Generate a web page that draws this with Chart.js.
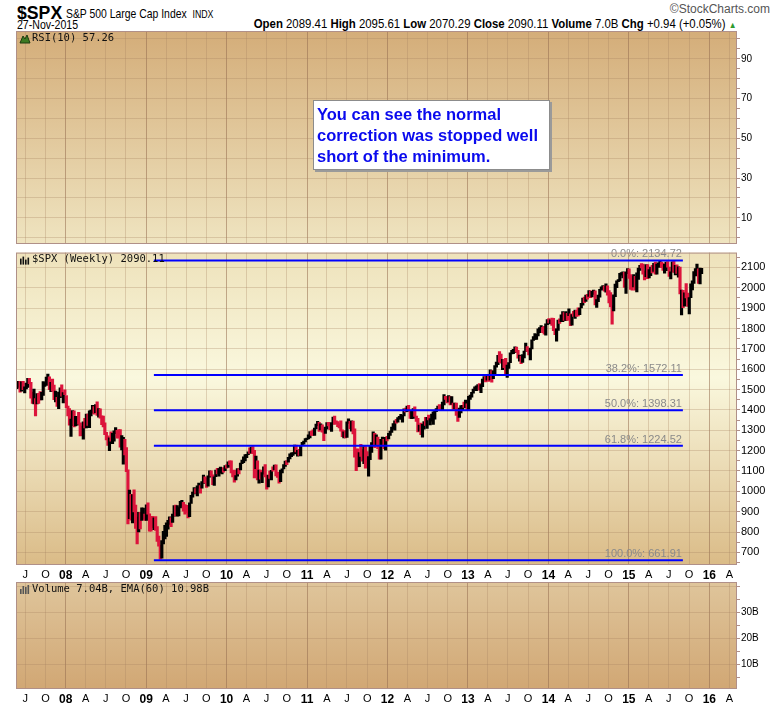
<!DOCTYPE html>
<html>
<head>
<meta charset="utf-8">
<script src="https://cdn.jsdelivr.net/npm/chart.js@4.4.1/dist/chart.umd.min.js"></script>
<style>
  body { margin: 0; background: #fff; width: 780px; height: 707px; position: relative; overflow: hidden;
         font-family: "Liberation Sans", Arial, sans-serif; }
  canvas { position: absolute; left: 0; }
  .hd { position: absolute; white-space: nowrap; color: #000; transform-origin: left top; }
  #note { position: absolute; left: 313px; top: 100px; width: 237px; height: 70px; box-sizing: border-box;
          background: #fff; border: 1px solid #8c8c8c; box-shadow: 2px 2px 0 #9a9a9a;
          padding: 3px 0 0 3px; font: bold 16.5px "Liberation Sans", Arial, sans-serif; color: #0a0aee; line-height: 21px; }
</style>
</head>
<body>
<div class="hd" style="left:17px;top:2px;font-weight:bold;font-size:19px;transform:scaleX(0.93)">$SPX</div>
<div class="hd" style="left:66px;top:6px;font-size:13px;transform:scaleX(0.8)">S&amp;P 500 Large Cap Index&nbsp; <span style="font-size:11px">INDX</span></div>
<div class="hd" style="left:17px;top:18px;font-size:12px;transform:scaleX(0.88)">27-Nov-2015</div>
<div class="hd" style="right:44px;top:16px;font-size:13px;transform:scaleX(0.877);transform-origin:right top"><b>Open</b> 2089.41 <b>High</b> 2095.61 <b>Low</b> 2070.29 <b>Close</b> 2090.11 <b>Volume</b> 7.0B <b>Chg</b> +0.94 (+0.05%) <span style="color:#2f9b2f;font-size:9px">&#9650;</span></div>
<div class="hd" style="right:10px;top:2px;font-size:12px;color:#555">&copy;StockCharts.com</div>

<canvas id="rsi" width="780" height="227" style="top:24px"></canvas>
<canvas id="price" width="780" height="336" style="top:245px"></canvas>
<canvas id="volume" width="780" height="130" style="top:575px"></canvas>

<div id="note">You can see the normal<br>correction was stopped well<br>short of the minimum.</div>

<script>
// weekly bars, first week ending 25-May-2007, one value per week
const weekStart = '2007-05-25';
const weekHigh = [
  1529,1540,1540,1538,1540,1514,1532,1555,1555,1535,1488,1503,1456,1480,1481,1490,1486,1539,1534,1561,1576,1563,1535,1552,1522,1493,1462,1488,1508,1523,1485,1499,
  1471,1419,1407,1355,1397,1395,1368,1368,1388,1336,1321,1341,1359,1380,1380,1395,1399,1422,1416,1426,1440,1406,1405,1371,1370,1336,1290,1273,1263,1292,1285,1297,1313,1300,1303,1303,1274,1265,1255,1215,1106,1006,985,984,1007,933,873,897,897,919,918,888,
  934,943,890,852,877,870,876,827,780,736,758,804,833,845,857,875,871,888,930,933,930,920,951,956,946,935,931,898,943,980,996,1018,1013,1027,1040,1028,1048,1080,1071,1065,1076,1101,1101,1081,1071,1105,1113,1112,1119,1110,1117,1127,1130,
  1145,1150,1150,1103,1104,1077,1112,1112,1139,1153,1170,1180,1182,1194,1214,1218,1220,1202,1173,1150,1104,1105,1092,1120,1131,1077,1080,1100,1103,1120,1129,1130,1095,1074,1105,1110,1131,1149,1151,1167,1184,1189,1190,1227,1227,1201,1206,1225,1241,1247,1259,1262,
  1278,1294,1296,1302,1311,1331,1344,1339,1332,1327,1306,1316,1338,1339,1328,1338,1365,1370,1346,1343,1333,1346,1302,1292,1298,1341,1356,1344,1347,1345,1307,1208,1209,1190,1231,1205,1220,1220,1195,1171,1225,1239,1292,1285,1277,1266,1219,1255,1267,1255,1265,1270,
  1285,1296,1316,1333,1346,1354,1362,1368,1378,1374,1405,1409,1419,1422,1398,1393,1406,1415,1370,1359,1325,1335,1329,1343,1364,1363,1375,1357,1380,1390,1394,1407,1419,1426,1413,1438,1475,1467,1460,1470,1465,1465,1434,1434,1434,1388,1409,1421,1423,1439,1448,1430,
  1467,1473,1486,1503,1514,1518,1524,1530,1525,1552,1564,1564,1570,1573,1597,1593,1592,1618,1635,1668,1687,1674,1648,1648,1654,1620,1632,1680,1693,1698,1710,1709,1693,1669,1664,1672,1689,1729,1711,1693,1704,1745,1760,1775,1771,1799,1805,1814,1806,1811,1823,1844,
  1849,1843,1851,1850,1799,1798,1841,1847,1867,1883,1878,1883,1875,1897,1872,1869,1885,1891,1889,1902,1901,1924,1950,1955,1964,1968,1986,1985,1983,1989,1985,1942,1964,1993,2005,2011,2008,2019,2010,1986,1977,1912,1966,2018,2034,2041,2071,2075,2079,2076,2078,2094,
  2093,2065,2057,2065,2057,2073,2097,2110,2119,2117,2083,2114,2114,2089,2102,2111,2120,2126,2117,2123,2135,2126,2121,2115,2127,2129,2102,2078,2128,2133,2111,2113,2103,2102,1989,1987,1975,2021,1974,1952,2020,2034,2080,2094,2117,2093,2097,2096
];
const weekLow = [
  1505,1510,1487,1492,1500,1484,1503,1510,1529,1458,1432,1430,1370,1430,1432,1449,1449,1471,1516,1520,1550,1500,1490,1492,1450,1439,1417,1406,1460,1467,1435,1475,
  1411,1370,1325,1270,1322,1316,1321,1325,1330,1272,1273,1256,1312,1312,1324,1313,1370,1384,1379,1387,1373,1364,1359,1328,1317,1278,1253,1225,1200,1247,1234,1247,1283,1261,1262,1217,1203,1133,1179,1097,840,866,858,845,899,818,741,800,815,857,862,857,
  857,888,804,804,821,812,808,754,731,667,672,741,766,779,814,838,826,847,878,879,878,879,918,927,903,888,896,869,875,940,971,987,990,978,1016,991,1015,1039,1041,1019,1025,1070,1074,1033,1029,1072,1086,1074,1091,1085,1094,1102,1114,
  1117,1131,1090,1071,1045,1056,1075,1086,1105,1136,1141,1150,1165,1180,1186,1188,1185,1066,1111,1056,1040,1060,1043,1084,1071,1011,1022,1063,1056,1099,1107,1076,1068,1040,1047,1091,1110,1122,1131,1143,1159,1170,1177,1184,1194,1173,1176,1174,1224,1232,1243,1254,
  1257,1263,1275,1275,1275,1307,1323,1294,1302,1291,1249,1285,1305,1321,1303,1294,1331,1329,1332,1318,1311,1296,1268,1262,1263,1265,1334,1307,1295,1282,1168,1101,1120,1121,1172,1148,1136,1114,1128,1075,1156,1191,1230,1215,1226,1209,1158,1158,1231,1209,1202,1248,
  1258,1275,1290,1307,1300,1335,1340,1354,1354,1340,1370,1390,1391,1397,1358,1357,1358,1368,1343,1292,1296,1278,1266,1306,1324,1309,1351,1326,1345,1329,1354,1391,1397,1398,1397,1396,1425,1451,1434,1439,1425,1427,1403,1405,1373,1343,1363,1385,1398,1412,1410,1401,
  1402,1451,1463,1482,1496,1495,1513,1497,1485,1514,1547,1538,1546,1540,1548,1536,1554,1577,1610,1622,1635,1630,1598,1608,1577,1560,1604,1632,1675,1676,1681,1684,1654,1639,1627,1633,1656,1687,1687,1670,1646,1700,1741,1746,1746,1764,1780,1797,1779,1772,1767,1819,
  1827,1823,1815,1790,1770,1738,1791,1825,1834,1834,1840,1839,1840,1863,1814,1816,1859,1850,1860,1862,1868,1901,1915,1927,1933,1944,1958,1952,1955,1968,1916,1904,1932,1954,1989,1993,1984,1979,1964,1926,1906,1821,1886,1957,2001,2030,2034,2062,2049,2002,1973,2069,
  2046,1992,1988,2004,1989,1980,2041,2085,2098,2067,2039,2055,2045,2048,2060,2073,2080,2067,2067,2100,2117,2099,2085,2072,2084,2101,2056,2044,2078,2076,2063,2071,2052,1970,1867,1903,1910,1950,1908,1872,1951,1990,2022,2059,2072,2022,2019,2070
];
const weekClose = [
  1516,1536,1508,1533,1503,1503,1530,1552,1534,1459,1433,1454,1446,1479,1474,1454,1484,1526,1527,1558,1562,1501,1535,1510,1454,1459,1441,1481,1505,1468,1485,1479,
  1412,1401,1325,1331,1395,1331,1350,1353,1331,1293,1288,1330,1315,1370,1333,1390,1398,1414,1388,1425,1376,1400,1361,1360,1318,1278,1263,1240,1261,1258,1260,1296,1298,1292,1283,1242,1252,1255,1213,1099,899,941,877,969,931,873,800,896,876,880,888,873,
  932,890,850,832,826,869,827,770,735,683,757,769,816,843,857,870,866,878,929,883,887,919,940,946,921,919,896,879,940,979,988,1011,1004,1026,1029,1016,1043,1068,1044,1025,1072,1088,1080,1036,1069,1094,1091,1092,1106,1106,1103,1127,1115,
  1145,1136,1092,1074,1066,1075,1109,1105,1139,1150,1160,1167,1178,1194,1192,1217,1187,1111,1136,1088,1089,1065,1092,1118,1077,1023,1078,1065,1103,1102,1122,1079,1072,1065,1105,1110,1126,1149,1146,1165,1176,1183,1183,1226,1199,1200,1189,1225,1240,1244,1257,1258,
  1272,1293,1283,1276,1311,1329,1343,1320,1321,1304,1279,1314,1332,1328,1320,1337,1364,1340,1338,1333,1331,1300,1271,1272,1268,1340,1344,1316,1345,1292,1199,1179,1124,1177,1174,1154,1216,1136,1131,1155,1225,1238,1285,1253,1264,1216,1159,1244,1255,1220,1265,1258,
  1278,1289,1315,1316,1345,1343,1361,1366,1370,1371,1404,1397,1409,1398,1370,1379,1403,1369,1353,1295,1318,1278,1326,1343,1335,1362,1355,1357,1363,1386,1391,1406,1418,1411,1407,1438,1466,1460,1441,1461,1429,1433,1412,1414,1380,1360,1409,1416,1418,1414,1430,1402,
  1467,1472,1486,1503,1513,1518,1520,1516,1518,1551,1561,1557,1569,1553,1589,1555,1582,1614,1634,1668,1650,1631,1643,1627,1592,1606,1632,1680,1692,1692,1710,1691,1656,1664,1633,1655,1688,1710,1692,1691,1703,1745,1760,1762,1771,1798,1805,1806,1805,1775,1818,1841,
  1831,1842,1839,1790,1783,1797,1839,1836,1860,1878,1841,1867,1858,1865,1816,1865,1863,1881,1879,1878,1901,1924,1949,1936,1963,1961,1985,1968,1978,1978,1925,1932,1955,1988,2003,2008,1986,2010,1983,1968,1906,1887,1965,2018,2032,2040,2064,2068,2075,2002,2071,2089,
  2058,2045,2019,2052,1995,2056,2097,2110,2105,2071,2053,2108,2061,2067,2102,2081,2118,2108,2116,2123,2126,2107,2093,2094,2110,2102,2077,2077,2127,2080,2104,2078,2092,1971,1989,1921,1961,1958,1931,1951,2015,2033,2075,2079,2099,2023,2089,2090
];

// axis labels
const quarterStart = '2007-07-01';
const quarterLabels = ['J','O','08','A','J','O','09','A','J','O','10','A','J','O','11','A','J','O',
  '12','A','J','O','13','A','J','O','14','A','J','O','15','A','J','O','16','A'];
const rsiLabels = [10, 30, 50, 70, 90];
const priceLabels = [700, 800, 900, 1000, 1100, 1200, 1300, 1400, 1500, 1600, 1700, 1800, 1900, 2000, 2100];
const volumeLabels = [10e9, 20e9, 30e9];

// fibonacci retracement
const fibPercents = ['0.0%', '38.2%', '50.0%', '61.8%', '100.0%'];
const fibValues = [2134.72, 1572.11, 1398.31, 1224.52, 661.91];
const fibFrom = '2009-02-05';
const fibTo = '2015-09-03';

const narrow = '"Liberation Sans Narrow", "Liberation Sans", sans-serif';
const frameColor = '#b09088';
const quarterGrid = 'rgba(165,130,95,0.30)';
const yearGrid = 'rgba(150,110,80,0.55)';
const hGrid = 'rgba(165,130,95,0.30)';
const upColor = '#000000';
const downColor = '#dc143c';

Chart.defaults.font.family = '"Liberation Sans", Arial, sans-serif';

function yearFrac(d) {
    const y = d.getUTCFullYear();
    const a = Date.UTC(y, 0, 1), b = Date.UTC(y + 1, 0, 1);
    return y + (d.getTime() - a) / (b - a);
}
function toX(s) {
    return yearFrac(new Date(s + 'T00:00:00Z'));
}

const DAY = 86400000;
const t0 = Date.parse(weekStart + 'T00:00:00Z');
const weekX = weekClose.map((_, i) => yearFrac(new Date(t0 + i * 7 * DAY)));
const q0 = new Date(quarterStart + 'T00:00:00Z');
const quarterX = quarterLabels.map((_, i) =>
    yearFrac(new Date(Date.UTC(q0.getUTCFullYear(), q0.getUTCMonth() + 3 * i, 1))));
const xMin = 2007.382, xMax = 2016.344;

function isYear(i) {
    return quarterLabels[i] !== undefined && quarterLabels[i].length === 2;
}

function timeAxis(showLabels) {
    return {
        type: 'linear', min: xMin, max: xMax, offset: false,
        afterBuildTicks: s => { s.ticks = quarterX.map(v => ({ value: v })); },
        afterFit: s => { s.height = showLabels ? 16 : 0; s.paddingLeft = 0; s.paddingRight = 0; },
        border: { display: false },
        grid: { offset: false, drawTicks: false, lineWidth: 1,
                color: c => isYear(c.index) ? yearGrid : quarterGrid },
        ticks: {
            display: showLabels, autoSkip: false, maxRotation: 0, minRotation: 0, padding: 3, color: '#000',
            font: c => isYear(c.index) ? { family: narrow, size: 12, weight: 'bold' } : { family: narrow, size: 11 },
            callback: (v, i) => quarterLabels[i]
        }
    };
}

function valueAxis(min, max, minorStep, labels, fmt, size) {
    const tickValues = [];
    for (let v = Math.ceil(min / minorStep) * minorStep; v <= max; v += minorStep) tickValues.push(v);
    const gridStep = minorStep * 2;
    return {
        type: 'linear', position: 'right', min: min, max: max,
        afterBuildTicks: s => { s.ticks = tickValues.map(v => ({ value: v })); },
        afterFit: s => { s.width = 43; },
        border: { display: false },
        grid: {
            drawTicks: true, tickLength: 3, tickColor: frameColor, lineWidth: 1,
            color: c => (c.tick && Math.abs(c.tick.value / gridStep - Math.round(c.tick.value / gridStep)) < 1e-6) ? hGrid : 'rgba(0,0,0,0)'
        },
        ticks: { autoSkip: false, padding: 1, color: '#000', font: { size: size },
                 callback: v => labels.includes(v) ? fmt(v) : '' }
    };
}

function drawIcon(ctx, kind, x, y) {
    ctx.save();
    if (kind === 'rsi') {
        ctx.fillStyle = '#3c7a22';
        ctx.strokeStyle = '#1d3d10';
        ctx.beginPath();
        ctx.moveTo(x, y + 10); ctx.lineTo(x + 3, y + 3); ctx.lineTo(x + 5, y + 6);
        ctx.lineTo(x + 7, y + 2); ctx.lineTo(x + 10, y + 10); ctx.closePath();
        ctx.fill(); ctx.stroke();
    } else {
        ctx.fillStyle = kind === 'price' ? '#111' : '#555';
        const hs = kind === 'price' ? [6, 8, 5, 7] : [5, 8, 7, 9];
        hs.forEach((h, k) => ctx.fillRect(x + k * 2.5, y + 10 - h, 1.6, h));
    }
    ctx.restore();
}

const panelPlugin = {
    id: 'panel',
    beforeDraw(chart, args, o) {
        const { ctx, chartArea: a } = chart;
        const g = ctx.createLinearGradient(0, a.top, 0, a.bottom);
        o.stops.forEach(s => g.addColorStop(s[0], s[1]));
        ctx.save();
        ctx.fillStyle = g;
        ctx.fillRect(a.left, a.top, a.right - a.left, a.bottom - a.top);
        ctx.restore();
    },
    afterDatasetsDraw(chart, args, o) {
        const { ctx, chartArea: a } = chart;
        ctx.save();
        if (o.fib) {
            const xs = chart.scales.x, ys = chart.scales.y;
            ctx.font = '11px "Liberation Sans", Arial, sans-serif';
            ctx.fillStyle = '#8a8a8a';
            ctx.textAlign = 'right';
            ctx.textBaseline = 'alphabetic';
            fibValues.forEach((v, i) => {
                ctx.fillText(fibPercents[i] + ': ' + v.toFixed(2), xs.getPixelForValue(toX(fibTo)) - 1, ys.getPixelForValue(v) - 3);
            });
        }
        drawIcon(ctx, o.icon, a.left + 4, a.top + 2);
        ctx.font = '10.5px "DejaVu Sans Mono", monospace';
        ctx.fillStyle = '#111';
        ctx.textAlign = 'left';
        ctx.textBaseline = 'middle';
        ctx.fillText(o.label, a.left + 16, a.top + 7);
        ctx.restore();
    },
    afterDraw(chart) {
        const { ctx, chartArea: a } = chart;
        ctx.save();
        ctx.strokeStyle = frameColor;
        ctx.lineWidth = 1;
        ctx.strokeRect(a.left + 0.5, a.top + 0.5, a.right - a.left - 1, a.bottom - a.top - 1);
        ctx.restore();
    }
};

const common = {
    responsive: false, animation: false, devicePixelRatio: 1,
    events: []
};

new Chart(document.getElementById('rsi'), {
    type: 'line',
    data: { datasets: [] },
    options: Object.assign({}, common, {
        layout: { padding: { left: 16, right: 0, top: 5, bottom: 1 } },
        scales: {
            x: timeAxis(false),
            y: valueAxis(-3.2, 104, 5, rsiLabels, v => String(v), 10)
        },
        plugins: {
            legend: { display: false }, tooltip: { enabled: false },
            panel: { icon: 'rsi', label: 'RSI(10) 57.26',
                     stops: [[0, '#d4ad79'], [1, '#efe4c0']] }
        }
    }),
    plugins: [panelPlugin]
});

const barColors = weekClose.map((c, i) => (i > 0 && c < weekClose[i - 1]) ? downColor : upColor);

const fibDatasets = fibValues.map(v => ({
    type: 'line',
    data: [{ x: toX(fibFrom), y: v }, { x: toX(fibTo), y: v }],
    borderColor: '#0000ff', borderWidth: 2, pointRadius: 0, fill: false, order: 1
}));

new Chart(document.getElementById('price'), {
    type: 'bar',
    data: {
        datasets: [{
            type: 'bar',
            data: weekX.map((x, i) => ({ x: x, y: [weekLow[i], weekHigh[i]] })),
            backgroundColor: barColors,
            borderWidth: 0, barThickness: 2.5, order: 2
        }].concat(fibDatasets)
    },
    options: Object.assign({}, common, {
        layout: { padding: { left: 16, right: 0, top: 5, bottom: 0 } },
        scales: {
            x: timeAxis(true),
            y: valueAxis(638, 2173, 50, priceLabels, v => String(v), 11)
        },
        plugins: {
            legend: { display: false }, tooltip: { enabled: false },
            panel: { icon: 'price', label: '$SPX (Weekly) 2090.11', fib: true,
                     stops: [[0, '#eee2bb'], [0.4, '#faf8de'], [1, '#dabb87']] }
        }
    }),
    plugins: [panelPlugin]
});

new Chart(document.getElementById('volume'), {
    type: 'bar',
    data: { datasets: [] },
    options: Object.assign({}, common, {
        layout: { padding: { left: 16, right: 0, top: 5, bottom: 0 } },
        scales: {
            x: timeAxis(true),
            y: valueAxis(0.6e9, 41.7e9, 5e9, volumeLabels, v => (v / 1e9) + 'B', 10)
        },
        plugins: {
            legend: { display: false }, tooltip: { enabled: false },
            panel: { icon: 'volume', label: 'Volume 7.04B, EMA(60) 10.98B',
                     stops: [[0, '#dfc59b'], [1, '#d1a774']] }
        }
    }),
    plugins: [panelPlugin]
});
</script>
</body>
</html>
